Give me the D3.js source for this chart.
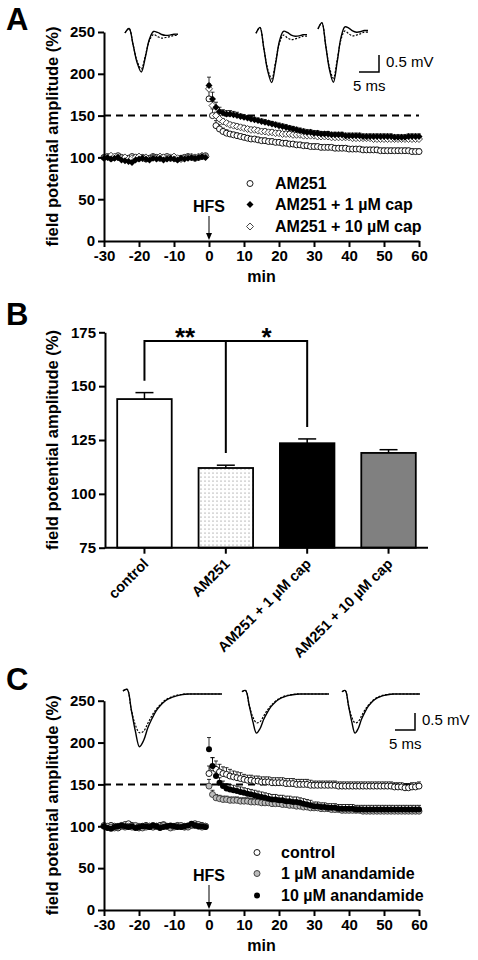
<!DOCTYPE html>
<html><head><meta charset="utf-8">
<script src="https://cdn.jsdelivr.net/npm/d3@7"></script>
<style>body{margin:0;background:#fff}text{font-family:Arial,"Liberation Sans",sans-serif}</style>
</head><body><svg id="c" width="478" height="960"></svg>
<script>
// ---------- Panel A data ----------
const baseTimes = [-30,-29,-28,-27,-26,-25,-24,-23,-22,-21,-20,-19,-18,-17,-16,-15,-14,-13,-12,-11,-10,-9,-8,-7,-6,-5,-4,-3,-2,-1];
const A_am251_base = [100,101,99,100,102,100,98,99,101,100,99,100,98,99,101,100,99,100,101,99,100,98,99,100,101,100,99,100,101,102];
const A_cap1_base  = [99,100,98,99,100,97,96,95,94,97,98,99,98,97,99,98,99,97,98,99,98,97,99,98,99,100,99,100,101,100];
const A_cap10_base = [100,101,102,101,100,99,100,98,99,100,101,99,100,98,100,99,101,100,99,100,101,99,98,99,100,101,100,101,102,101];
const A_am251_post = [170,150,138,134,131,129,128,127,126,125,124,123,122,122,121,120,120,119,119,118,118,117,117,116,116,115,115,114,114,113,113,113,112,112,112,112,111,111,111,111,110,110,110,110,109,109,109,109,109,108,108,108,108,108,108,108,108,108,107,107,107];
const A_cap1_post  = [186,170,160,155,153,152,152,151,150,149,148,147,146,145,144,143,142,141,140,139,138,137,136,135,134,133,132,131,130,130,129,129,128,128,128,127,127,127,127,126,126,126,126,126,125,125,125,125,125,125,125,125,125,124,124,124,124,125,125,125,125];
const A_cap10_post = [182,162,150,146,143,141,139,138,137,136,135,134,133,133,132,131,131,130,130,129,129,128,128,128,127,127,127,126,126,126,126,125,125,125,125,124,124,124,124,124,124,123,123,123,123,123,123,122,122,122,122,122,122,122,122,122,122,122,122,122,122];
const A_am251_err  = [10,8,6,5,4,4,3,3,3,3,3,3,3,3,3,3,3,3,3,3,3,3,3,3,3,3,3,3,3,3,3,3,3,3,3,3,3,3,3,3,3,3,3,3,3,3,3,3,3,3,3,3,3,3,3,3,3,3,3,3,3];
const A_cap1_err   = [10,8,6,5,4,4,4,4,4,3,3,3,3,3,3,3,3,3,3,3,3,3,3,3,3,3,3,3,3,3,3,3,3,3,3,3,3,3,3,3,3,3,3,3,3,3,3,3,3,3,3,3,3,3,3,3,3,3,3,3,3];
const A_cap10_err  = [6,5,4,4,3,3,3,3,3,3,3,3,3,3,3,3,3,3,3,3,3,3,3,3,3,3,3,3,3,3,3,3,3,3,3,3,3,3,3,3,3,3,3,3,3,3,3,3,3,3,3,3,3,3,3,3,3,3,3,3,3];
const A_legend = ["AM251","AM251 + 1 µM cap","AM251 + 10 µM cap"];

// ---------- Panel B data ----------
const B_categories = ["control","AM251","AM251 + 1 µM cap","AM251 + 10 µM cap"];
const B_values = [144,112,123.5,119];
const B_errors = [3,1.3,2,1.5];
const B_fills = ["#ffffff","dots","#000000","#808080"];
const B_ticks = [75,100,125,150,175];

// ---------- Panel C data ----------
const C_ctrl_base = [100,99,101,100,98,100,102,103,101,99,98,100,101,100,99,100,101,102,100,99,100,101,100,99,100,101,103,102,101,100];
const C_an1_base  = [101,100,99,98,100,101,99,100,99,101,100,98,99,100,101,100,99,101,100,98,99,100,101,100,99,102,101,100,99,100];
const C_an10_base = [100,98,97,99,100,101,100,99,100,98,99,100,100,99,101,100,98,99,100,101,100,99,99,100,101,103,101,100,100,99];
const C_ctrl_post = [163,170,168,165,163,162,160,159,158,157,156,155,155,154,154,153,153,153,152,152,152,152,151,151,151,150,150,150,150,149,149,149,149,149,149,149,149,148,148,148,148,148,148,148,148,148,148,148,148,148,148,148,148,147,147,147,146,146,147,147,148];
const C_an1_post  = [148,138,134,133,132,132,131,131,131,130,130,130,129,129,129,128,128,128,127,127,127,126,126,125,125,124,124,123,123,122,122,122,121,121,121,120,120,120,119,119,119,119,119,119,118,118,118,118,118,118,118,118,118,118,118,118,118,118,118,118,118];
const C_an10_post = [192,172,160,152,148,145,144,143,142,141,140,139,138,137,136,135,134,133,132,132,131,131,130,130,129,129,128,127,126,125,124,124,123,123,122,122,122,121,121,121,121,121,120,120,120,120,120,120,120,120,120,120,120,120,120,120,120,120,120,120,120];
const C_ctrl_err  = [9,12,10,9,8,8,8,7,7,7,6,6,6,6,6,6,6,6,6,6,6,6,6,6,6,6,6,6,6,6,5,5,5,5,5,5,5,5,5,5,5,5,5,5,5,5,5,5,5,5,5,5,5,5,5,5,5,5,5,5,5];
const C_an1_err   = [8,5,4,4,4,4,4,4,4,4,4,4,4,4,4,4,4,4,4,4,4,4,4,4,4,4,4,4,4,4,4,4,4,4,4,4,4,4,4,4,4,4,4,4,4,4,4,4,4,4,4,4,4,4,4,4,4,4,4,4,4];
const C_an10_err  = [14,10,8,6,6,6,6,6,6,6,6,6,6,6,6,6,6,6,6,6,6,6,6,6,6,6,6,6,6,6,5,5,5,5,5,5,5,5,5,5,5,5,5,5,5,5,5,5,5,5,5,5,5,5,5,5,5,5,5,5,5];
const C_legend = ["control"," 1 µM anandamide","10 µM anandamide"];

const xTicks = [-30,-20,-10,0,10,20,30,40,50,60];
const yTicks = [0,50,100,150,200,250];

// waveform insets (ms, mV)
const trA_t = [0,1,2,3,4,5,6,7,8,9,10,11,12,13];
const trA_solid  = [0.1,0.25,-0.3,-0.9,-1.2,-0.7,-0.1,0.15,0.12,0.05,0.02,0.03,0.06,0.06];
const trA_dashed = [0.1,0.25,-0.3,-0.85,-1.1,-0.65,-0.15,0.05,-0.02,-0.07,-0.05,-0.02,0.02,0.02];
const trC_t = [0,1,2,3,4,5,6,7,8,9,10,11,12,13,14,15,16,18,20,22,24];
const trC_solid  = [0.1,0.15,-0.5,-1.2,-1.7,-1.5,-1.1,-0.8,-0.55,-0.38,-0.25,-0.16,-0.1,-0.06,-0.03,-0.01,0,0,0,0,0];
const trC_dashed = [0.1,0.15,-0.5,-1.0,-1.25,-1.2,-0.95,-0.7,-0.5,-0.35,-0.22,-0.14,-0.08,-0.04,-0.02,0,0,0,0,0,0];

const FONT = "Arial,'Liberation Sans',sans-serif";
const svg = d3.select("#c");
const defs = svg.append("defs");
const pat = defs.append("pattern").attr("id","dots").attr("width",4).attr("height",4).attr("patternUnits","userSpaceOnUse");
pat.append("rect").attr("width",4).attr("height",4).attr("fill","#fff");
pat.append("circle").attr("cx",1).attr("cy",1).attr("r",0.5).attr("fill","#555");

function letter(t,x,y){svg.append("text").attr("x",x).attr("y",y).attr("font-size",31).attr("font-weight","bold").text(t);}
function styleAxis(g,fs){g.selectAll("path,line").attr("stroke","#000").attr("stroke-width",2);
  g.selectAll("text").attr("font-size",fs||15).attr("font-weight","bold").attr("font-family",FONT);}
function yLabel(cx,cy){svg.append("text").attr("transform",`translate(${cx},${cy}) rotate(-90)`).attr("text-anchor","middle")
  .attr("font-size",16.5).attr("font-weight","bold").text("field potential amplitude (%)");}

function marker(g,type,x,y){
  const r=3;
  if(type==="circleOpen") g.append("circle").attr("cx",x).attr("cy",y).attr("r",r).attr("fill","#fff").attr("stroke","#000").attr("stroke-width",0.9);
  if(type==="circleGrey") g.append("circle").attr("cx",x).attr("cy",y).attr("r",r).attr("fill","#bbb").attr("stroke","#333").attr("stroke-width",0.9);
  if(type==="circleBlack") g.append("circle").attr("cx",x).attr("cy",y).attr("r",r).attr("fill","#000");
  const s=3.5;
  const dp=`M${x},${y-s}L${x+s},${y}L${x},${y+s}L${x-s},${y}Z`;
  if(type==="diamondBlack") g.append("path").attr("d",dp).attr("fill","#000");
  if(type==="diamondOpen") g.append("path").attr("d",dp).attr("fill","#fff").attr("stroke","#333").attr("stroke-width",0.9);
}

function timePanel(top,bottom,series,legend,legendY,insets,scaleBar){
  const x=d3.scaleLinear().domain([-30,60]).range([104,419]);
  const y=d3.scaleLinear().domain([0,250]).range([bottom,top]);
  svg.append("line").attr("x1",x(-30)).attr("x2",x(60)).attr("y1",y(150)).attr("y2",y(150)).attr("stroke","#000").attr("stroke-width",2).attr("stroke-dasharray","7,5");
  const g=svg.append("g");
  series.forEach(s=>{
    s.post.forEach((v,i)=>{ const e=s.err[i];
      g.append("line").attr("x1",x(i)).attr("x2",x(i)).attr("y1",y(v)).attr("y2",y(v+e)).attr("stroke","#000").attr("stroke-width",0.8);
      g.append("line").attr("x1",x(i)-2).attr("x2",x(i)+2).attr("y1",y(v+e)).attr("y2",y(v+e)).attr("stroke","#000").attr("stroke-width",0.8);
    });
  });
  series.forEach(s=>{
    s.base.forEach((v,i)=>marker(g,s.m,x(baseTimes[i]),y(v)));
    s.post.forEach((v,i)=>marker(g,s.m,x(i),y(v)));
  });
  const ax=svg.append("g").attr("transform",`translate(0,${bottom})`).call(d3.axisBottom(x).tickValues(xTicks).tickFormat(d=>String(d)).tickSize(6).tickSizeOuter(0));
  styleAxis(ax);
  const ay=svg.append("g").attr("transform",`translate(${x(-30)},0)`).call(d3.axisLeft(y).tickValues(yTicks).tickSize(6).tickSizeOuter(0));
  styleAxis(ay);
  svg.append("text").attr("x",x(15)).attr("y",bottom+41).attr("text-anchor","middle").attr("font-size",16).attr("font-weight","bold").text("min");
  yLabel(58,(top+bottom)/2);
  svg.append("text").attr("x",x(0)).attr("y",bottom-29).attr("text-anchor","middle").attr("font-size",16).attr("font-weight","bold").text("HFS");
  svg.append("line").attr("x1",x(0)).attr("x2",x(0)).attr("y1",bottom-25).attr("y2",bottom-6).attr("stroke","#000").attr("stroke-width",1);
  svg.append("path").attr("d",`M${x(0)-3},${bottom-8}L${x(0)+3},${bottom-8}L${x(0)},${bottom-1}Z`).attr("fill","#000");
  series.forEach((s,i)=>{
    marker(svg,s.m,legend.sx,legendY[i]-5.5);
    svg.append("text").attr("x",legend.tx).attr("y",legendY[i]).attr("font-size",16).attr("font-weight","bold").text(legend.labels[i]);
  });
  insets.forEach(ins=>{
    const tx=d3.scaleLinear().domain(d3.extent(ins.t)).range([ins.x0,ins.x1]);
    const ty=d3.scaleLinear().domain([0,-1]).range([ins.y0,ins.y0+ins.amp]);
    const line=d3.line().x((d,i)=>tx(ins.t[i])).y(d=>ty(d)).curve(d3.curveCatmullRom);
    svg.append("path").attr("d",line(ins.dashed)).attr("fill","none").attr("stroke","#000").attr("stroke-width",1.2).attr("stroke-dasharray","2,1.5");
    svg.append("path").attr("d",line(ins.solid)).attr("fill","none").attr("stroke","#000").attr("stroke-width",1.4);
  });
  const b=scaleBar;
  svg.append("path").attr("d",`M${b.x-20},${b.y}H${b.x}V${b.y-17}`).attr("fill","none").attr("stroke","#000").attr("stroke-width",1.5);
  svg.append("text").attr("x",b.x+7).attr("y",b.y-5).attr("font-size",15).text("0.5 mV");
  svg.append("text").attr("x",b.x-26).attr("y",b.y+19).attr("font-size",15).text("5 ms");
}

// Panel A
letter("A",6,30);
timePanel(32,241,[
  {m:"circleOpen",base:A_am251_base,post:A_am251_post,err:A_am251_err},
  {m:"diamondOpen",base:A_cap10_base,post:A_cap10_post,err:A_cap10_err},
  {m:"diamondBlack",base:A_cap1_base,post:A_cap1_post,err:A_cap1_err}
],
  {sx:250,tx:275,labels:[A_legend[0],A_legend[2],A_legend[1]]},[189,232,210],
  [{t:trA_t,solid:trA_solid,dashed:trA_dashed,x0:125,x1:178,y0:36,amp:30},
   {t:trA_t,solid:trA_solid,dashed:trA_dashed,x0:256,x1:307,y0:37,amp:38},
   {t:trA_t,solid:trA_solid,dashed:trA_dashed,x0:318,x1:368,y0:33,amp:41}],
  {x:379,y:72});

// Panel B
letter("B",6,325);
(function(){
  const x=d3.scaleBand().domain(B_categories).range([105,428]).paddingInner(0.33).paddingOuter(0.15);
  const y=d3.scaleLinear().domain([75,175]).range([547.7,332.3]);
  B_categories.forEach((c,i)=>{
    const v=B_values[i],e=B_errors[i],cx=x(c)+x.bandwidth()/2;
    svg.append("line").attr("x1",cx).attr("x2",cx).attr("y1",y(v)).attr("y2",y(v+e)).attr("stroke","#000").attr("stroke-width",1.5);
    svg.append("line").attr("x1",cx-9).attr("x2",cx+9).attr("y1",y(v+e)).attr("y2",y(v+e)).attr("stroke","#000").attr("stroke-width",1.5);
    svg.append("rect").attr("x",x(c)).attr("y",y(v)).attr("width",x.bandwidth()).attr("height",y(75)-y(v))
      .attr("fill",B_fills[i]==="dots"?"url(#dots)":B_fills[i]).attr("stroke","#000").attr("stroke-width",1.8);
  });
  const ax=svg.append("g").attr("transform","translate(0,547.7)").call(d3.axisBottom(x).tickSize(6).tickSizeOuter(0));
  styleAxis(ax,14.5);
  ax.selectAll("text").attr("text-anchor","end").attr("transform","translate(-2,4) rotate(-45)").attr("dy","0.35em").attr("dx","-0.3em");
  ax.select(".domain").attr("d","M105,0H428");
  const ay=svg.append("g").attr("transform","translate(105,0)").call(d3.axisLeft(y).tickValues(B_ticks).tickSize(6).tickSizeOuter(0));
  styleAxis(ay);
  yLabel(58,440);
  const c0=x(B_categories[0])+x.bandwidth()/2,c1=x(B_categories[1])+x.bandwidth()/2,c2=x(B_categories[2])+x.bandwidth()/2;
  const by=y(171);
  svg.append("path").attr("d",`M${c0},${y(152.5)}V${by}H${c2}V${y(131)}M${c1},${by}V${y(119)}`).attr("fill","none").attr("stroke","#000").attr("stroke-width",2);
  svg.append("text").attr("x",(c0+c1)/2).attr("y",by+5).attr("text-anchor","middle").attr("font-size",26).attr("font-weight","bold").text("**");
  svg.append("text").attr("x",(c1+c2)/2).attr("y",by+5).attr("text-anchor","middle").attr("font-size",26).attr("font-weight","bold").text("*");
})();

// Panel C
letter("C",6,690);
timePanel(700.7,910,[
  {m:"circleOpen",base:C_ctrl_base,post:C_ctrl_post,err:C_ctrl_err},
  {m:"circleGrey",base:C_an1_base,post:C_an1_post,err:C_an1_err},
  {m:"circleBlack",base:C_an10_base,post:C_an10_post,err:C_an10_err}
],
  {sx:257,tx:281,labels:C_legend},[858,879,901],
  [{t:trC_t,solid:trC_solid,dashed:trC_dashed,x0:123,x1:222,y0:694,amp:31},
   {t:trC_t,solid:trC_solid,dashed:trC_dashed,x0:242,x1:329,y0:694,amp:23},
   {t:trC_t,solid:trC_solid,dashed:trC_dashed,x0:342,x1:420,y0:694,amp:23}],
  {x:415,y:730});
</script></body></html>
